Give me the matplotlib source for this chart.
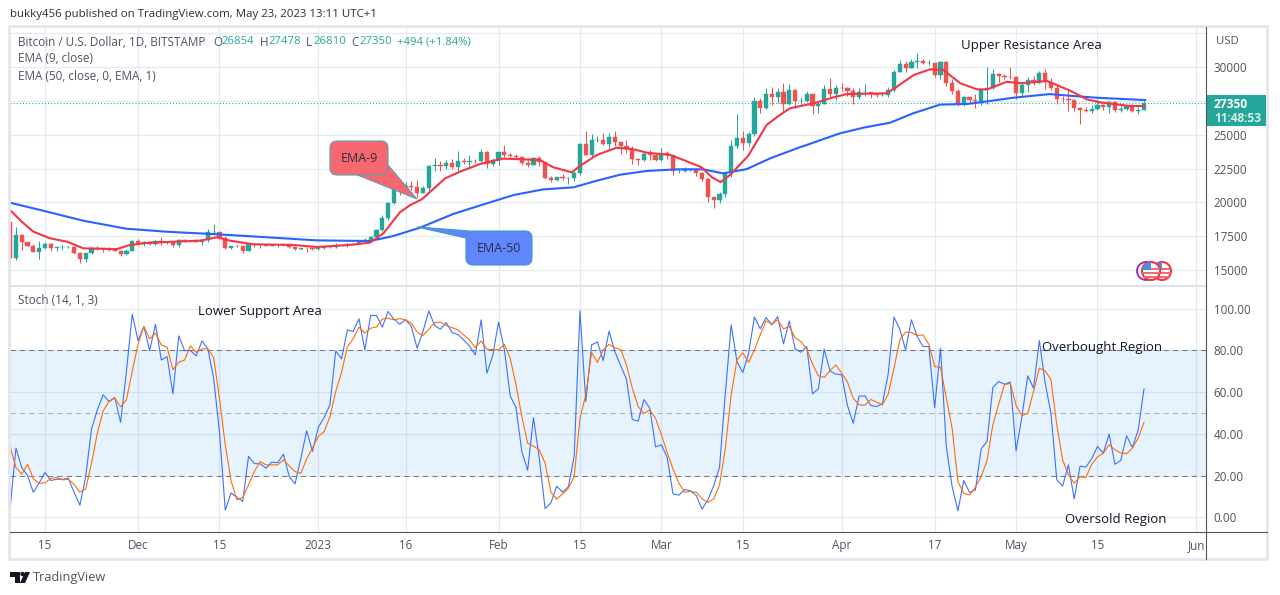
import pandas as pd
import matplotlib
matplotlib.use("Agg")
import matplotlib.pyplot as plt
from matplotlib.patches import Circle, FancyBboxPatch, Polygon, Rectangle

plt.rcParams['font.family'] = ['Open Sans', 'DejaVu Sans']

W, H = 1280, 595
GRID = "#e2ebf2"
GREEN = "#26a69a"
RED = "#ef5350"
TEXT = "#50535e"
BASE = pd.Timestamp("2022-11-15")

first_open = 18540
# daily high, low, close from 9 Nov 2022
hlc = [
    (18590,15590,15880),(18200,15760,17600),(17650,16480,17070),(17080,16750,16810),(16930,16310,16330),
    (17130,15830,16620),(17060,16530,16890),(16960,16400,16660),(16730,16420,16680),(16850,16550,16700),
    (16800,16610,16700),(16740,16200,16280),(16300,15480,15780),(16250,15610,16220),(16680,16160,16600),
    (16790,16470,16600),(16630,16350,16520),(16680,16400,16460),(16590,16400,16430),(16480,16000,16210),
    (16540,16100,16440),(17240,16430,17170),(17320,16860,16970),(17110,16790,17090),(17150,16860,16890),
    (17200,16880,17110),(17430,16880,16970),(17100,16910,17090),(17130,16690,16840),(17290,16730,17220),
    (17300,17060,17130),(17230,17090,17130),(17270,17070,17090),(17240,16870,17200),(18000,17090,17780),
    (18390,17660,17810),(17840,17270,17360),(17530,16570,16630),(16800,16580,16780),(16860,16730,16740),
    (16810,16280,16440),(17050,16400,16900),(16920,16670,16820),(16870,16590,16820),(16950,16760,16780),
    (16870,16780,16840),(16860,16720,16840),(16930,16790,16920),(16940,16590,16710),(16780,16470,16550),
    (16660,16490,16630),(16640,16340,16600),(16640,16480,16540),(16630,16500,16610),(16760,16550,16670),
    (16770,16610,16670),(16970,16660,16850),(16880,16790,16830),(17000,16680,16950),(16970,16910,16940),
    (17180,16910,17090),(17390,17080,17190),(17490,17150,17440),(18000,17320,17940),(19100,17900,18850),
    (20000,18700,19930),(21250,19890,20950),(21050,20550,20870),(21470,20620,21180),(21600,20900,21140),
    (21650,20400,20670),(21190,20660,21070),(22750,20860,22670),(23300,22340,22780),(23080,22300,22710),
    (23160,22500,22920),(23180,22460,22630),(23800,22350,23060),(23240,22850,23000),(23480,22540,23070),
    (23170,22880,23030),(23950,23000,23740),(23790,22520,22830),(23310,22720,23130),(23800,22760,23730),
    (24250,23360,23490),(23680,23210,23430),(23580,23260,23330),(23430,22750,22930),(23160,22630,22760),
    (23350,22740,23250),(23450,22680,22960),(23010,21700,21800),(21940,21470,21630),(21900,21600,21860),
    (22080,21620,21780),(21900,21350,21780),(22310,21540,22200),(24400,22040,24330),(25250,23500,23520),
    (25020,23340,24570),(24870,24450,24630),(25150,24250,24280),(25100,23860,24840),(25280,24150,24440),
    (24460,23580,24190),(24600,23620,23940),(24150,22850,23190),(23230,22740,23160),(23690,23070,23550),
    (23880,23110,23490),(23600,23020,23140),(24000,23020,23630),(23800,23200,23470),(23480,22000,22350),
    (22410,22200,22350),(22600,22210,22430),(22530,22290,22410),(22550,21950,22200),(22260,21600,21700),
    (21800,20050,20360),(20370,19570,20190),(20780,19950,20630),(22200,20420,22160),(24600,21900,24200),
    (26530,24000,24750),(25250,23900,24380),(25200,24200,25050),(27760,24900,27460),(27730,26630,26960),
    (28420,26900,28040),(28500,27200,27800),(28450,27350,28170),(28800,26640,27300),(28770,27170,28300),
    (28400,27000,27490),(27790,27180,27490),(28200,27450,27990),(28030,26520,27140),(27520,26630,27270),
    (28640,27250,28350),(29180,27700,28030),(28650,27560,28470),(28800,28250,28460),(28530,27870,28200),
    (28480,27280,27800),(28440,27650,28170),(28780,27830,28170),(28190,27730,28030),(28110,27780,27900),
    (28170,27880,27950),(28530,27800,28330),(29770,28170,29650),(30540,29600,30230),(30470,29620,29900),
    (30620,29900,30400),(31000,29900,30480),(30600,30230,30320),(30540,30130,30320),(30320,29270,29440),
    (30480,29120,30390),(30410,28620,28820),(29080,28000,28240),(28370,27130,27260),(27880,27150,27820),
    (27820,27330,27600),(28000,26970,27520),(28400,27200,28300),(30020,27260,28420),(29880,28400,29470),
    (29580,28900,29340),(29460,29100,29250),(30000,29130,29230),(29330,27670,28070),(28900,27880,28670),
    (29270,28150,29030),(29370,28670,28850),(29690,28810,29530),(29840,28400,28900),(29180,28300,28450),
    (28640,27300,27660),(27830,27370,27620),(28340,26760,27600),(27640,26720,26980),(27040,25810,26800),
    (27040,26700,26780),(27200,26590,26920),(27660,26830,27160),(27280,26860,27030),(27480,26570,27400),
    (27480,26680,26820),(27180,26650,26890),(27150,26830,27100),(27270,26660,26750),(27050,26530,26850),
    (27478,26810,27350),
]

# (day offset from 15 Nov, value)
ema9 = [(-6,19430),(-4,18570),(-2,17830),(0.9,17340),(3.8,17090),(6.6,16600),(12.3,16540),(14.6,16850),(18,17020),
        (26.7,17170),(29.6,17420),(31.8,17170),(35.8,16900),(42.7,16850),(46.7,16700),(52.4,16850),(55.9,17020),
        (58.2,17710),(61,19250),(62.8,19800),(64.8,20220),(68.8,21770),(71.4,22270),(74.8,22830),(78.8,23230),
        (85.1,23130),(87.4,22590),(90.6,22220),(92,22690),(94.9,23500),(98.3,24040),(101.2,23920),(103.5,23670),
        (107.5,23500),(109.8,23130),(112.9,22590),(114.7,21850),(116.2,21500),(117.8,22020),(120.9,23420),
        (124.1,25720),(126.2,26400),(128.1,26950),(132.2,27320),(135.6,27760),(137.9,28000),(144.8,28060),
        (146.5,28550),(149.4,29410),(152.2,29830),(154.5,29780),(157.4,28800),(160.3,28350),(162,28350),
        (165.4,28910),(167.7,28800),(172.3,28970),(174,28670),(176.3,28250),(179.2,27610),(181.4,27390),
        (186.6,27120),(189,27120)]
ema50 = [(-6,19970),(-0.3,19380),(6.6,18640),(14,18050),(20.9,17830),(29.6,17640),(38.1,17420),(46.7,17190),
         (55.9,17140),(59.9,17510),(64.5,18130),(70.2,19140),(76,19930),(80.6,20540),(85.7,20960),(90.9,21110),
         (94.9,21600),(98.9,22040),(103.5,22320),(108.7,22440),(113.2,22440),(116.6,22140),(120.7,22460),
         (124.7,23250),(129.8,24070),(131,24240),(136.7,25100),(141,25540),(145.3,25880),(149.3,26580),
         (153.9,27220),(158.6,27270),(162.5,27490),(166.5,27730),(172.8,28000),(176.8,27860),(180.9,27730),
         (189.2,27560)]

stoch_k = [4.5,33.2,23.9,20.1,12.0,16.6,21.5,17.7,18.3,18.3,18.8,12.1,5.9,19.6,42.4,51.5,58.7,55.5,57.4,45.6,
           69.9,97.3,84.7,91.4,79.9,92.5,75.4,77.0,59.2,86.9,79.9,79.9,77.4,84.5,80.7,66.7,41.1,3.5,11.8,9.6,
           7.7,29.3,25.8,25.7,23.6,26.5,26.2,30.3,19.6,16.1,28.4,41.5,31.6,43.2,47.8,53.9,79.7,75.9,89.8,89.0,
           95.1,80.2,96.7,96.7,91.1,98.6,94.9,92.5,94.7,91.4,81.0,89.0,98.9,91.9,90.1,93.3,88.5,87.6,85.0,82.1,
           77.8,94.6,69.1,77.5,93.6,80.2,58.2,52.6,31.6,22.6,47.8,28.4,4.3,7.0,15.0,12.1,14.7,29.2,98.9,55.5,
           82.6,84.0,75.1,89.2,79.4,72.7,66.2,46.9,46.1,56.5,52.3,33.8,34.8,28.7,11.3,10.7,13.4,12.8,10.5,4.0,
           8.5,15.2,24.1,59.5,92.2,74.6,69.4,78.6,96.0,90.3,95.7,92.2,96.2,83.1,94.1,80.7,79.1,81.8,59.2,61.6,
           80.5,70.2,68.6,68.3,53.6,45.1,58.1,58.2,53.6,53.1,54.4,68.6,95.9,90.1,80.2,94.6,86.6,81.8,81.8,52.6,
           81.0,34.0,14.8,3.2,17.7,12.0,13.2,32.9,36.4,62.2,65.1,63.8,64.8,31.9,48.3,67.8,61.9,84.7,64.3,49.9,
           18.0,15.0,25.2,8.9,24.6,24.1,28.1,34.0,30.8,39.9,25.5,27.3,39.1,33.5,41.9,61.6]
stoch_d = [34.0,23.9,20.7,25.5,18.5,16.3,16.6,18.7,19.1,18.0,18.3,15.9,12.1,13.7,26.0,40.4,51.0,55.5,57.1,53.0,
           56.3,69.9,82.9,91.4,85.5,88.2,82.6,81.5,70.7,74.3,75.4,82.1,79.1,80.7,80.7,76.6,57.1,34.8,17.5,8.5,
           9.6,15.6,22.0,26.8,25.2,25.2,25.2,27.6,24.7,22.0,21.1,28.1,33.2,38.8,41.1,48.3,60.3,69.5,81.8,85.5,
           91.1,88.2,90.6,91.2,94.9,95.4,94.6,95.2,94.6,93.0,88.7,87.1,90.1,93.3,93.5,91.9,90.9,89.8,87.4,85.0,
           81.3,84.5,80.5,80.4,80.2,82.9,76.2,63.5,48.3,35.6,34.1,32.4,26.0,12.1,8.8,11.3,14.0,19.6,47.5,58.7,
           78.9,74.2,80.2,82.9,81.2,80.4,73.0,61.9,53.1,49.8,51.5,47.5,39.6,31.1,23.3,16.4,12.1,12.4,12.1,8.9,
           7.3,8.9,15.6,33.2,58.7,75.4,78.8,74.3,80.2,87.4,94.1,92.5,94.6,90.3,91.4,86.1,84.2,80.7,73.4,67.8,
           67.1,70.3,73.0,69.1,64.8,57.1,53.9,53.7,56.5,55.2,53.9,59.0,71.5,85.0,88.8,88.5,87.1,87.4,82.9,72.2,
           71.9,57.1,42.7,17.2,11.6,10.8,14.5,19.6,27.3,44.3,54.2,63.5,64.3,53.6,48.8,49.8,60.3,71.5,70.2,65.9,
           44.3,27.6,20.4,16.4,19.6,19.1,25.5,29.0,30.8,34.8,32.4,30.9,30.5,33.2,38.0,45.6]

dates = pd.date_range("2022-11-09", periods=len(hlc))
df = pd.DataFrame(hlc, columns=["high", "low", "close"], index=dates)
df["open"] = df["close"].shift(1).fillna(first_open)
df["day"] = (df.index - BASE).days
df["k"] = stoch_k
df["d"] = stoch_d


def place(left, top, right, bottom):
    return fig.add_axes([left / W, 1 - bottom / H, (right - left) / W, (bottom - top) / H])


fig = plt.figure(figsize=(W / 100, H / 100), dpi=100, facecolor="white")

price = place(10, 27, 1206, 285)
stoch = place(10, 286, 1206, 532)

tick_dates = ["2022-11-15", "2022-12-01", "2022-12-15", "2023-01-01", "2023-01-16", "2023-02-01", "2023-02-15",
              "2023-03-01", "2023-03-15", "2023-04-01", "2023-04-17", "2023-05-01", "2023-05-15", "2023-06-01"]
tick_labels = ["15", "Dec", "15", "2023", "16", "Feb", "15", "Mar", "15", "Apr", "17", "May", "15", "Jun"]
tick_days = [(pd.Timestamp(t) - BASE).days for t in tick_dates]

for ax in (price, stoch):
    ax.set_xlim(-6.02, 199.66)
    ax.set_xticks(tick_days)
    ax.grid(True, color=GRID, lw=0.9)
    ax.set_axisbelow(True)
    ax.tick_params(length=0, labelbottom=False, labelleft=False, labelright=True, right=False)
    for s in ax.spines.values():
        s.set_visible(False)

# price panel
price.set_ylim(13891, 32958)
price.set_yticks(range(15000, 32501, 2500))
price.set_yticklabels(["15000", "17500", "20000", "22500", "25000", "27500", "30000", ""],
                      color=TEXT, fontsize=8.4)
price.tick_params(axis="y", pad=5.5)
up = df["close"] >= df["open"]
colors = [GREEN if u else RED for u in up]
price.vlines(df["day"], df["low"], df["high"], colors=colors, lw=0.75, zorder=3)
price.bar(df["day"], df["close"] - df["open"], bottom=df["open"], width=0.72, color=colors,
          edgecolor=colors, lw=0.3, zorder=3)
price.plot(*zip(*ema50), color="#2962ff", lw=1.5, zorder=4)
price.plot(*zip(*ema9), color="#f23645", lw=1.5, zorder=5)
price.axhline(df["close"].iloc[-1], color=GREEN, lw=0.75, ls=(0, (1, 2)), zorder=2)

# stochastic panel
stoch.set_ylim(-6.94, 110.8)
stoch.set_yticks([0, 20, 40, 60, 80, 100])
stoch.set_yticklabels(["0.00", "20.00", "40.00", "60.00", "80.00", "100.00"], color=TEXT, fontsize=8.4)
stoch.tick_params(axis="y", pad=5.5)
stoch.axhspan(20, 80, color="#2196f3", alpha=0.11, lw=0, zorder=1)
stoch.axhline(80, color="#787b86", lw=0.75, ls=(0, (5, 4)), zorder=2)
stoch.axhline(50, color="#aeb1ba", lw=0.75, ls=(0, (5, 4)), zorder=2)
stoch.axhline(20, color="#787b86", lw=0.75, ls=(0, (5, 4)), zorder=2)
stoch.plot(df["day"], df["k"], color="#2962ff", lw=0.8, alpha=0.9, zorder=3)
stoch.plot(df["day"], df["d"], color="#ff6d00", lw=0.8, zorder=4)

# page furniture, in pixels
over = fig.add_axes([0, 0, 1, 1], zorder=10)
over.set_xlim(0, W)
over.set_ylim(H, 0)
over.axis("off")
over.patch.set_alpha(0)

over.add_patch(Rectangle((9, 26), 1258, 533, fill=False, ec="#e3e6ee", lw=2))
over.plot([10, 1206], [285.5, 285.5], color="#dfe3ea", lw=1.5)
over.plot([10, 1267], [532, 532], color=TEXT, lw=0.8)
over.plot([1206, 1206], [27, 559], color=TEXT, lw=0.8)

for d, lab in zip(tick_days, tick_labels):
    px = stoch.transData.transform((d, 0))[0]
    over.text(px, 545.5, lab, ha="center", va="center", color=TEXT, fontsize=8.4)

over.text(10, 15, "bukky456 published on TradingView.com, May 23, 2023 13:11 UTC+1", va="center",
          color="#2a2e39", fontsize=8.25)

over.text(18, 42, "Bitcoin / U.S. Dollar, 1D, BITSTAMP", va="center", color=TEXT, fontsize=8.5)
for x, lab, val, gap in [(213, "O", "26854", 8.5), (260, "H", "27478", 8), (306, "L", "26810", 7), (351, "C", "27350", 8.5)]:
    over.text(x, 42, lab, va="center", color=TEXT, fontsize=8.4)
    over.text(x + gap, 42, val, va="center", color=GREEN, fontsize=8.2)
over.text(397, 42, "+494 (+1.84%)", va="center", color=GREEN, fontsize=8.1)
over.text(18, 59, "EMA (9, close)", va="center", color=TEXT, fontsize=8.5)
over.text(18, 76, "EMA (50, close, 0, EMA, 1)", va="center", color=TEXT, fontsize=8.5)
over.text(18, 301, "Stoch (14, 1, 3)", va="center", color=TEXT, fontsize=8.5)
over.text(1216, 41, "USD", va="center", color=TEXT, fontsize=8.2)

# last price tag
over.add_patch(Rectangle((1207, 95), 59, 31, color=GREEN, lw=0))
over.text(1214, 104, "27350", va="center", color="white", fontsize=8.6, fontweight="bold")
over.text(1214, 118, "11:48:53", va="center", color="#d5f0ed", fontsize=8.6, fontweight="bold")

for x, y, lab in [(961, 45.5, "Upper Resistance Area"), (198, 312, "Lower Support Area"),
                  (1042, 347.5, "Overbought Region"), (1065, 519.5, "Oversold Region")]:
    over.text(x, y, lab, va="center", color="#131722", fontsize=9.5)

# callouts
over.add_patch(Polygon([(355, 174), (417, 199), (388, 165)], fc="#f7676f", ec="#5a9fb0", lw=0.8, zorder=3))
over.add_patch(FancyBboxPatch((334, 145), 50, 26, boxstyle="round,pad=4,rounding_size=7",
                              fc="#f7676f", ec="#5a9fb0", lw=0.8, zorder=3))
over.add_patch(Polygon([(417, 227), (466, 238), (470, 231)], fc="#5f86ff", ec="#3f97c9", lw=0.8, zorder=3))
over.add_patch(FancyBboxPatch((470, 235), 58, 26, boxstyle="round,pad=4,rounding_size=7",
                              fc="#5f86ff", ec="#3f97c9", lw=0.8, zorder=3))
over.text(359, 158, "EMA-9", ha="center", va="center", color="#2a2e39", fontsize=9, zorder=4)
over.text(499, 248.5, "EMA-50", ha="center", va="center", color="#2a2e39", fontsize=9, zorder=4)

# event flags
over.add_patch(Circle((1146, 271), 9, fc="white", ec="#9c27b0", lw=1.3))
for cx in (1162, 1151):
    c = Circle((cx, 271), 9, fc="white", ec="#f23645", lw=1.5)
    over.add_patch(c)
    for sy in (268, 272, 276):
        over.add_patch(Rectangle((cx - 9, sy), 18, 2, color="#f26a72", lw=0, clip_path=c))
    over.add_patch(Rectangle((cx - 9, 262), 9, 8, color="#4a90e2", lw=0, clip_path=c))

# logo
over.add_patch(Polygon([(10, 572), (20, 572), (20, 583), (15, 583), (15, 577), (10, 577)], color="#131722", lw=0))
over.add_patch(Circle((22.5, 574), 2.2, color="#131722", lw=0))
over.add_patch(Polygon([(25, 572), (30, 572), (25, 583), (20, 583)], color="#131722", lw=0))
over.text(33, 577, "TradingView", va="center", color=TEXT, fontsize=9.2)

fig.savefig("out.png", dpi=100)
